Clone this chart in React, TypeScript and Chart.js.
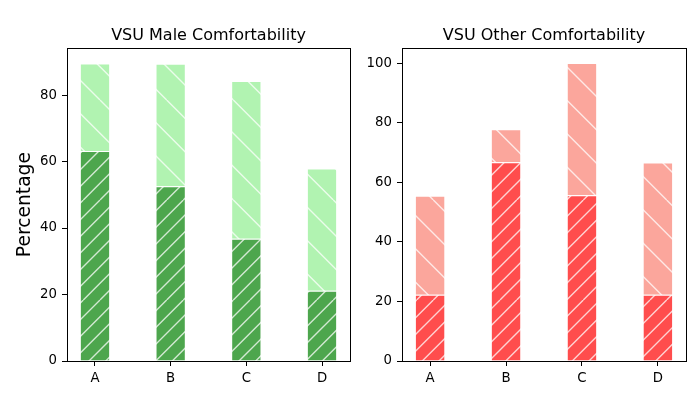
import { useEffect, useRef } from 'react';
import { Chart, registerables } from 'chart.js';

Chart.register(...registerables);
Chart.defaults.font.family = '"DejaVu Sans", sans-serif';

const categories = ['A', 'B', 'C', 'D'];
const maleBase = [63.2, 52.6, 36.8, 21.1];
const maleRest = [26.3, 36.8, 47.4, 36.8];
const otherBase = [22.2, 66.7, 55.6, 22.2];
const otherRest = [33.3, 11.1, 44.4, 44.4];
const maleTicks = [0, 20, 40, 60, 80];
const otherTicks = [0, 20, 40, 60, 80, 100];

// matplotlib-like hatch: coloured tile with white diagonal lines
function hatch(fill: string, dir: '/' | '\\', lines: number, shiftX: number) {
  const size = 100;
  const c = document.createElement('canvas');
  c.width = size;
  c.height = size;
  const g = c.getContext('2d')!;
  g.fillStyle = fill;
  g.fillRect(0, 0, size, size);
  g.strokeStyle = 'rgba(255,255,255,0.75)';
  g.lineWidth = 1.4;
  const step = size / lines;
  g.beginPath();
  for (let k = -lines; k <= lines; k++) {
    const x0 = k * step;
    if (dir === '/') {
      g.moveTo(x0, size);
      g.lineTo(x0 + size, 0);
    } else {
      g.moveTo(x0, 0);
      g.lineTo(x0 + size, size);
    }
  }
  g.stroke();
  const p = g.createPattern(c, 'repeat')!;
  p.setTransform(new DOMMatrix().translate(-shiftX, 0));
  return p;
}

const frame = {
  id: 'frame',
  afterDraw(chart: Chart) {
    const { ctx, chartArea: a } = chart;
    ctx.save();
    ctx.strokeStyle = '#000';
    ctx.lineWidth = 1;
    ctx.strokeRect(Math.round(a.left) + 0.5, Math.round(a.top) + 0.5, Math.round(a.right - a.left), Math.round(a.bottom - a.top));
    ctx.restore();
  },
};

interface PanelProps {
  title: string;
  yTitle?: string;
  base: number[];
  rest: number[];
  ticks: number[];
  yMax: number;
  colors: [string, string];
  left: number;
  width: number;
  axisWidth: number;
  padRight: number;
}

function Panel({ title, yTitle, base, rest, ticks, yMax, colors, left, width, axisWidth, padRight }: PanelProps) {
  const chartRef = useRef<HTMLCanvasElement>(null);

  useEffect(() => {
    if (!chartRef.current) return;
    const tickFont = { size: 13.3 };
    const chart = new Chart(chartRef.current, {
      type: 'bar',
      data: {
        datasets: [
          {
            data: base.map((v, i) => ({ x: i, y: v })),
            backgroundColor: hatch(colors[0], '/', 6, left),
            borderColor: 'rgba(255,255,255,0.7)',
            borderWidth: 1,
            barPercentage: 0.4,
            categoryPercentage: 1,
          },
          {
            data: rest.map((v, i) => ({ x: i, y: v })),
            backgroundColor: hatch(colors[1], '\\', 3, left),
            borderColor: 'rgba(255,255,255,0.7)',
            borderWidth: 1,
            barPercentage: 0.4,
            categoryPercentage: 1,
          },
        ],
      },
      options: {
        animation: false,
        responsive: false,
        layout: { padding: { left: 0, right: padRight, top: 26, bottom: 0 } },
        plugins: {
          legend: { display: false },
          tooltip: { enabled: false },
          title: {
            display: true,
            text: title,
            fullSize: false,
            color: '#000',
            font: { size: 16, weight: 'normal' },
            padding: { top: 0, bottom: 3 },
          },
        },
        scales: {
          x: {
            type: 'linear',
            min: -0.37,
            max: 3.37,
            offset: false,
            stacked: true,
            afterBuildTicks: (s: any) => {
              s.ticks = categories.map((_, i) => ({ value: i }));
            },
            afterFit: (s: any) => {
              s.height = 39;
            },
            ticks: {
              callback: (v: any) => categories[v as number],
              color: '#000',
              font: tickFont,
              padding: 5,
              maxRotation: 0,
              autoSkip: false,
            },
            grid: { display: true, offset: false, drawOnChartArea: false, drawTicks: true, tickLength: 5, color: '#000' },
            border: { display: false },
          },
          y: {
            min: 0,
            max: yMax,
            stacked: true,
            afterBuildTicks: (s: any) => {
              s.ticks = ticks.map(v => ({ value: v }));
            },
            afterFit: (s: any) => {
              s.width = axisWidth;
            },
            ticks: { color: '#000', font: tickFont, padding: 5 },
            grid: { display: true, drawOnChartArea: false, drawTicks: true, tickLength: 5, color: '#000' },
            border: { display: false },
            title: {
              display: !!yTitle,
              text: yTitle || '',
              color: '#000',
              font: { size: 18.7 },
              padding: { top: 14, bottom: 0 },
            },
          },
        },
      },
      plugins: [frame],
    });

    return () => {
      chart.destroy();
    };
  }, []);

  return (
    <canvas
      ref={chartRef}
      width={width}
      height={400}
      style={{ position: 'absolute', left, top: 0, width, height: 400 }}
    />
  );
}

export default function App() {
  return (
    <div style={{ position: 'fixed', left: 0, top: 0, width: 700, height: 400, background: '#fff' }}>
      <Panel
        title="VSU Male Comfortability"
        yTitle="Percentage"
        base={maleBase}
        rest={maleRest}
        ticks={maleTicks}
        yMax={94.1}
        colors={['rgb(77,166,77)', 'rgb(177,243,177)']}
        left={0}
        width={360}
        axisWidth={67}
        padRight={10}
      />
      <Panel
        title="VSU Other Comfortability"
        base={otherBase}
        rest={otherRest}
        ticks={otherTicks}
        yMax={105}
        colors={['rgb(255,77,77)', 'rgb(251,166,156)']}
        left={360}
        width={340}
        axisWidth={42}
        padRight={14}
      />
    </div>
  );
}
